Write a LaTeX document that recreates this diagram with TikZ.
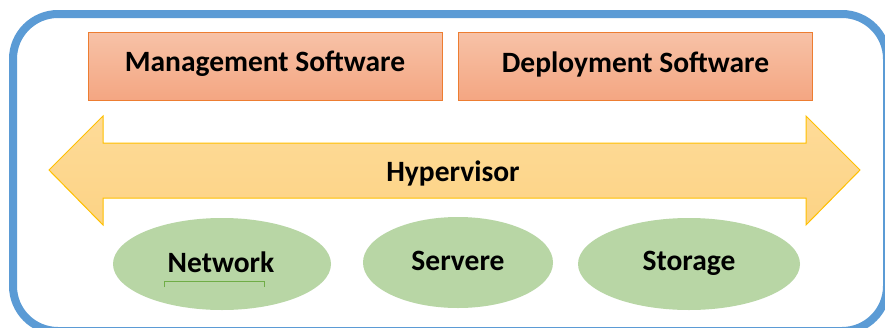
\documentclass[tikz,border=0pt]{standalone}
\usepackage{fontspec}
\setmainfont{Carlito}
\usetikzlibrary{shapes.geometric}
\definecolor{frameblue}{HTML}{5B9BD5}
\definecolor{boxtop}{HTML}{F7C2A7}
\definecolor{boxbot}{HTML}{F4A682}
\definecolor{boxline}{HTML}{ED7D31}
\definecolor{arrtop}{HTML}{FEDB98}
\definecolor{arrbot}{HTML}{FCD385}
\definecolor{arrline}{HTML}{FFC000}
\definecolor{ellfill}{HTML}{B8D6A5}
\definecolor{ulgreen}{HTML}{70AD47}
\tikzset{
  softbox/.style={draw=boxline, line width=1pt, top color=boxtop, bottom color=boxbot, minimum width=354pt, minimum height=68pt, inner sep=0pt},
  ellnode/.style={ellipse, fill=ellfill, inner sep=0pt},
  lbl/.style={font=\fontsize{29.5}{34}\selectfont\bfseries, text=black},
}
\begin{document}
\begin{tikzpicture}[x=1pt,y=-1pt]
\clip (0,0) rectangle (885,327);
\fill[white] (0,0) rectangle (885,327);
\draw[frameblue, line width=8pt, rounded corners=45pt] (13,14) rectangle (887,331);
\node[softbox] (mgmt) at (265,66) {};
\node[lbl] at (265,64) {Management Software};
\node[softbox] (depl) at (635.5,66) {};
\node[lbl] at (635.5,64) {Deployment Software};
\draw[arrline, line width=1pt, top color=arrtop, bottom color=arrbot]
  (49,170) -- (103,116) -- (103,143) -- (806,143) -- (806,116) -- (860,170)
  -- (806,225) -- (806,198) -- (103,198) -- (103,225) -- cycle;
\node[lbl] (hyp) at (453,173) {Hypervisor};
\node[ellnode, minimum width=218pt, minimum height=92pt] (net) at (222,264) {};
\node[lbl] at (221,262) {Network};
\draw[ulgreen, line width=1pt] (164,287) -- (164,281) -- (264,281) -- (264,287);
\node[ellnode, minimum width=190pt, minimum height=91pt] (srv) at (458,262.5) {};
\node[lbl] at (458,261) {Servere};
\node[ellnode, minimum width=222pt, minimum height=92pt] (sto) at (689,264) {};
\node[lbl] at (689,263) {Storage};
\end{tikzpicture}
\end{document}
